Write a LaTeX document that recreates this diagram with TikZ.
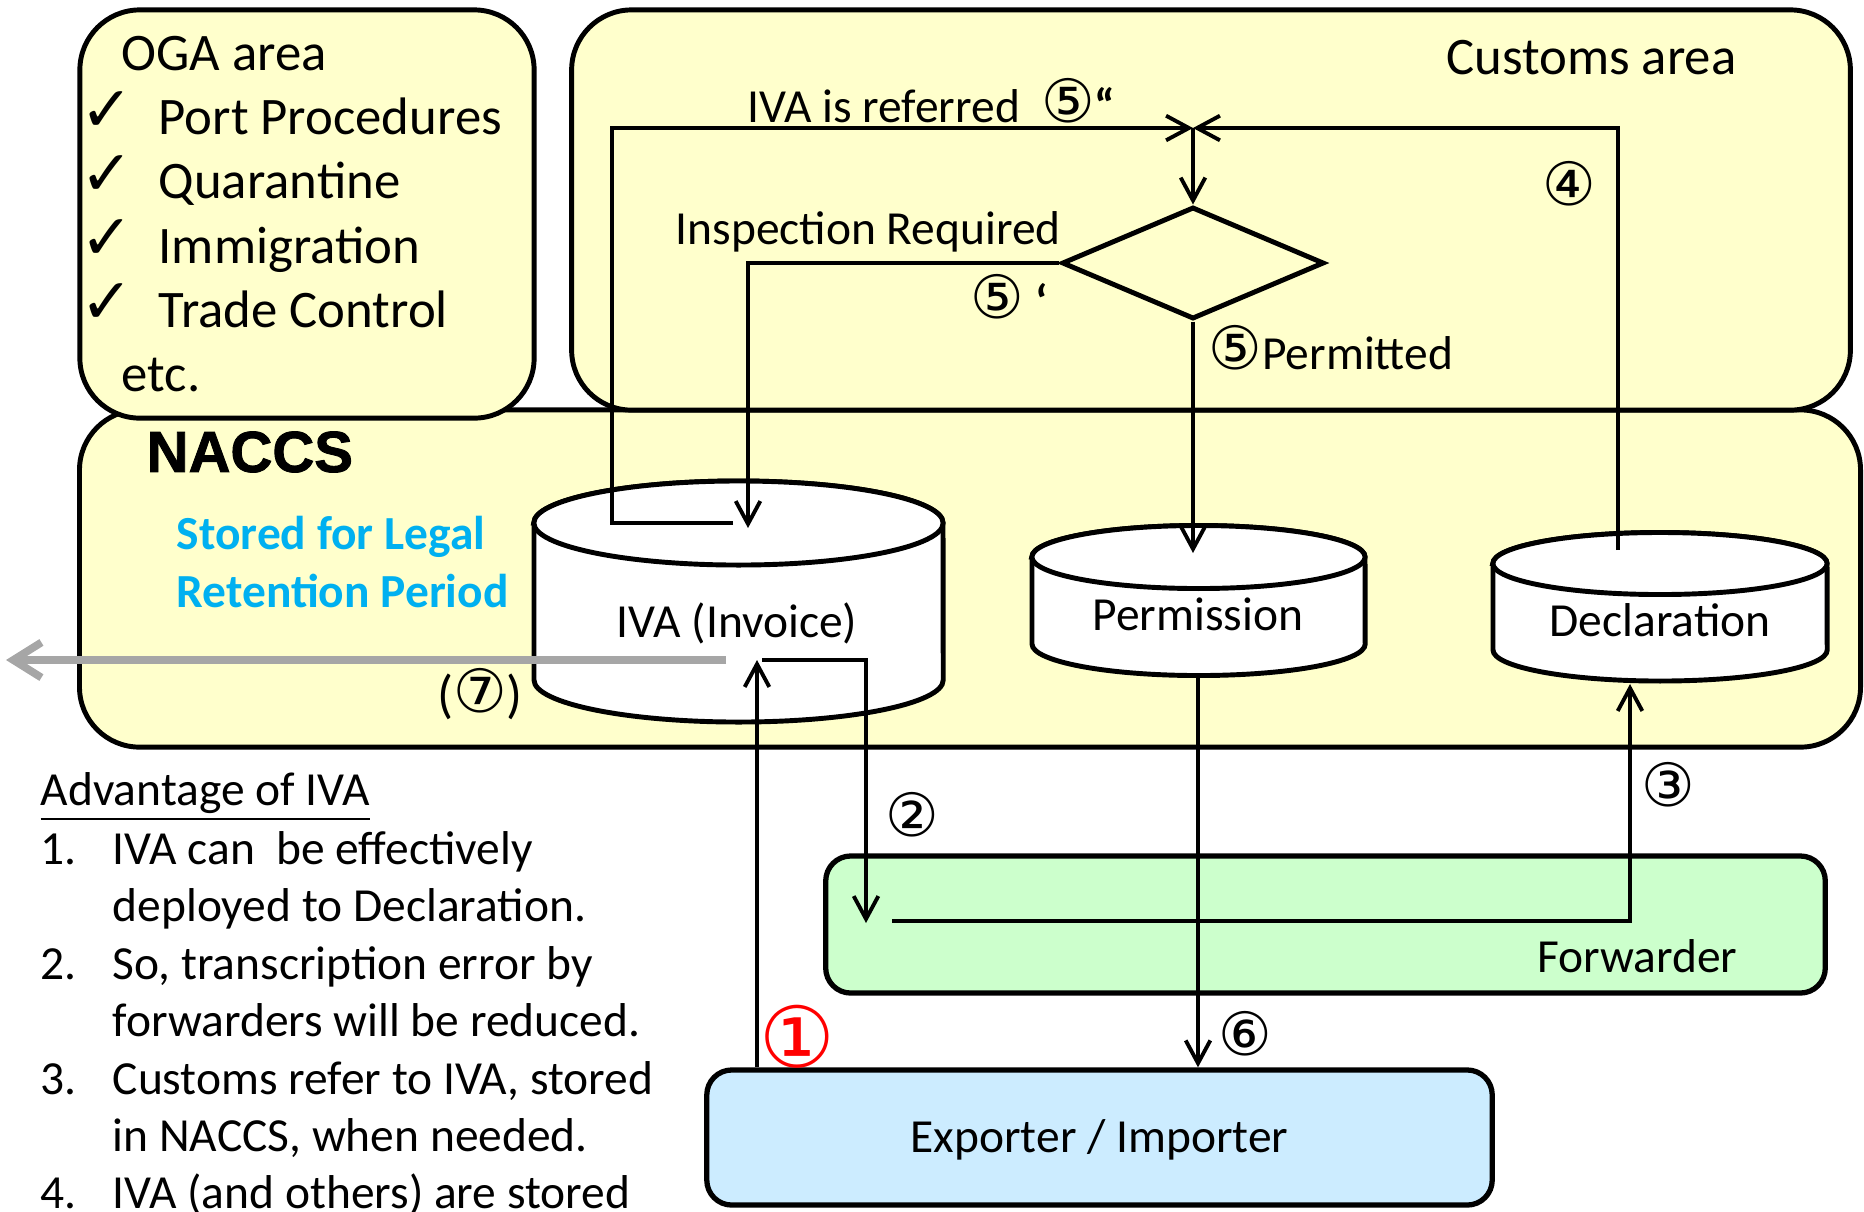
\documentclass[tikz,border=0pt]{standalone}
\usepackage{fontspec}
\setmainfont{Carlito}
\newfontfamily\circfont{DejaVu Sans}
\newfontfamily\headfont[BoldFeatures={FakeBold=1.5}]{Liberation Sans}
\usetikzlibrary{arrows.meta, shapes}
\definecolor{areafill}{HTML}{FFFFCC}
\definecolor{fwdfill}{HTML}{CCFFCC}
\definecolor{expfill}{HTML}{CCECFF}
\definecolor{legal}{HTML}{00B0F0}
\definecolor{retain}{HTML}{A6A6A6}

\begin{document}
\begin{tikzpicture}[x=0.01cm, y=0.01cm, >={Straight Barb[length=6.5pt, width=7pt]},
		area/.style={draw, line width=1.4pt, fill=areafill, rounded corners=0.6cm, inner sep=0},
		party/.style={draw, line width=1.5pt, rounded corners=0.25cm, inner sep=0, font=\fontsize{13.5}{16}\selectfont, text height=8.7pt, text depth=0pt},
		drum/.style={draw, fill=white, line width=1.4pt},
		flow/.style={->, line width=1.1pt},
		big/.style={font=\fontsize{15}{18}\selectfont, inner sep=0, text height=9.7pt, text depth=0pt},
		lbl/.style={font=\fontsize{13.5}{16}\selectfont, inner sep=0, text height=8.7pt, text depth=0pt},
		num/.style={font=\circfont\fontsize{17}{17}\selectfont, inner sep=0}]
	\useasboundingbox (0,0) rectangle (1864,-1211);

	\node[area, minimum width=17.8cm, minimum height=3.37cm] (naccs) at (970,-578.5) {};
	\node[area, minimum width=4.54cm, minimum height=4.08cm] (oga) at (307,-214) {};
	\node[area, minimum width=12.78cm, minimum height=4cm] (customs) at (1211,-210) {};

	\node[party, fill=fwdfill, minimum width=9.99cm, minimum height=1.37cm] (fwd) at (1325.5,-924.5) {};
	\node[party, fill=expfill, minimum width=7.85cm, minimum height=1.35cm] (exp) at (1099.5,-1137.5) {Exporter / Importer};

	\filldraw[drum] (534,-523) -- (534,-680) arc[start angle=180, end angle=360, x radius=2.045cm, y radius=0.42cm]
		-- (943,-523) arc[start angle=0, end angle=180, x radius=2.045cm, y radius=0.42cm] -- cycle;
	\draw[drum] (738.5,-523) ellipse [x radius=2.045cm, y radius=0.42cm];
	\filldraw[drum] (1032,-557) -- (1032,-644) arc[start angle=180, end angle=360, x radius=1.665cm, y radius=0.315cm]
		-- (1365,-557) arc[start angle=0, end angle=180, x radius=1.665cm, y radius=0.315cm] -- cycle;
	\draw[drum] (1198.5,-557) ellipse [x radius=1.665cm, y radius=0.315cm];
	\filldraw[drum] (1493,-563.5) -- (1493,-650) arc[start angle=180, end angle=360, x radius=1.67cm, y radius=0.31cm]
		-- (1827,-563.5) arc[start angle=0, end angle=180, x radius=1.67cm, y radius=0.31cm] -- cycle;
	\draw[drum] (1660,-563.5) ellipse [x radius=1.67cm, y radius=0.31cm];

	\node[lbl] (iva) at (737,-622) {IVA (Invoice)};
	\node[lbl] (perm) at (1198,-615) {Permission};
	\node[lbl] (decl) at (1660,-621) {Declaration};

	\node[diamond, draw, line width=1.4pt, minimum width=2.62cm, minimum height=1.12cm, inner sep=0] (check) at (1193,-263) {};

	\coordinate (meet) at (1193,-128);
	\coordinate (ivaout) at (733,-523);
	\coordinate (ivain) at (748,-528);
	\coordinate (decout) at (1618,-550);
	\coordinate (permin) at (1198,-553);
	\coordinate (permout) at (1198,-675);
	\coordinate (fetch) at (757,-660);
	\coordinate (give) at (762,-660);
	\coordinate (fwdin) at (866,-923);
	\coordinate (fwdout) at (892,-921);
	\coordinate (decin) at (1630,-684);
	\coordinate (keep) at (726,-660);
	\coordinate (archive) at (6,-660);

	\draw[flow] (ivaout) -- ++(-121,0) |- (meet);
	\draw[flow] (decout) |- (meet);
	\draw[flow] (meet) -- (check.north);
	\draw[flow] (check.west) -| (ivain);
	\draw[flow] (check.south) -- (check.south |- permin);
	\draw[flow] (permout) -- (permout |- exp.north);
	\draw[flow] (fetch |- exp.north) -- (fetch);
	\draw[flow] (give) -| (fwdin);
	\draw[flow] (fwdout) -| (decin);
	\draw[-{Straight Barb[length=8pt, width=10pt]}, line width=2.2pt, draw=retain] (keep) -- (archive);

	\node[big, anchor=west] (ogatitle) at (121,-53.5) {OGA area};
	\node[num, font=\circfont\fontsize{18}{18}\selectfont] (tick1) at (107,-112) {✓};
	\node[num, font=\circfont\fontsize{18}{18}\selectfont] (tick2) at (107,-176) {✓};
	\node[num, font=\circfont\fontsize{18}{18}\selectfont] (tick3) at (107,-240) {✓};
	\node[num, font=\circfont\fontsize{18}{18}\selectfont] (tick4) at (107,-304) {✓};
	\node[big, anchor=west] (port) at (158,-117.7) {Port Procedures};
	\node[big, anchor=west] (quar) at (158,-181.9) {Quarantine};
	\node[big, anchor=west] (immi) at (158,-246.1) {Immigration};
	\node[big, anchor=west] (trade) at (158,-310.3) {Trade Control};
	\node[big, anchor=west] (etc) at (121,-374.5) {etc.};
	\node[big, anchor=east] (custitle) at (1737,-57) {Customs area};

	\node[anchor=west, inner sep=0, font=\headfont\bfseries\fontsize{16.5}{18}\selectfont] (naccstitle) at (146,-452) {NACCS};
	\node[lbl, anchor=west, text=legal, font=\bfseries\fontsize{13.5}{16}\selectfont] (stored1) at (176,-534) {Stored for Legal};
	\node[lbl, anchor=west, text=legal, font=\bfseries\fontsize{13.5}{16}\selectfont] (stored2) at (176,-592) {Retention Period};
	\node[lbl, font=\fontsize{15}{16}\selectfont] (seven) at (480,-697) {({\circfont\fontsize{17}{17}\selectfont ⑦})};

	\node[lbl, anchor=west] (referred) at (747,-107) {IVA is referred\ \ {\circfont\fontsize{17}{17}\selectfont ⑤}\textbf{“}};
	\node[lbl, anchor=west] (inspect) at (675,-229) {Inspection Required};
	\node[lbl, anchor=west] (five1) at (970,-303) {{\circfont\fontsize{17}{17}\selectfont ⑤} \textbf{‘}};
	\node[lbl, anchor=west] (permitted) at (1208,-354) {{\circfont\fontsize{17}{17}\selectfont ⑤}Permitted};
	\node[num] (four) at (1569,-184) {④};
	\node[num] (two) at (912,-815) {②};
	\node[num] (three) at (1668,-785) {③};
	\node[num] (six) at (1245,-1034) {⑥};
	\node[num, text=red, font=\circfont\fontsize{24}{24}\selectfont] (one) at (797,-1037) {①};
	\node[lbl, anchor=east] (fwdname) at (1738,-957) {Forwarder};

	\node[lbl, anchor=west] (advtitle) at (40,-790.5) {\underline{Advantage of IVA}};
	\node[lbl, anchor=west] (n1) at (40,-848.8) {1.};
	\node[lbl, anchor=west] (n2) at (40,-964.1) {2.};
	\node[lbl, anchor=west] (n3) at (40,-1079.4) {3.};
	\node[lbl, anchor=west] (n4) at (40,-1193.6) {4.};
	\node[lbl, anchor=west] (a1) at (112,-848.8) {IVA can\ \ be effectively};
	\node[lbl, anchor=west] (a2) at (112,-905.9) {deployed to Declaration.};
	\node[lbl, anchor=west] (a3) at (112,-964.1) {So, transcription error by};
	\node[lbl, anchor=west] (a4) at (112,-1021.2) {forwarders will be reduced.};
	\node[lbl, anchor=west] (a5) at (112,-1079.4) {Customs refer to IVA, stored};
	\node[lbl, anchor=west] (a6) at (112,-1136.5) {in NACCS, when needed.};
	\node[lbl, anchor=west] (a7) at (112,-1193.6) {IVA (and others) are stored};
\end{tikzpicture}
\end{document}
